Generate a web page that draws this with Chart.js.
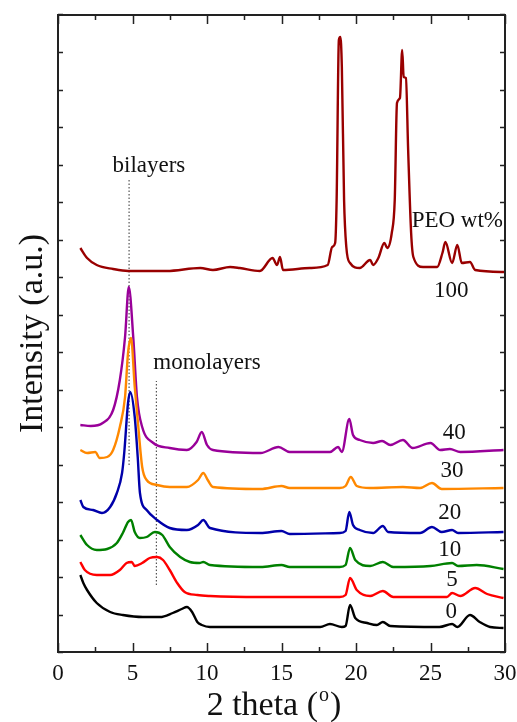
<!DOCTYPE html>
<html lang="en">
<head>
    <meta charset="UTF-8">
    <title>XRD PEO wt%</title>
    <script src="https://cdn.jsdelivr.net/npm/chart.js"></script>
    <style>
    body {
        margin: 0;
        background-color: #fff;
    }
    #wrap {
        width: 517px;
        height: 722px;
    }
</style>
</head>
<body>
    <div id="wrap"><canvas id="xrdChart" width="517" height="722"></canvas></div>

    <script>
        // 2 theta (deg), intensity (a.u., stacked offsets included)
        const peo0 = [[1.5,77],[1.7,69],[1.95,62],[2.6,49],[3.5,40],[4.35,37],[5.7,35],[6.85,35],[7.7,39],[8.3,43],[8.65,45],[9.0,40],[9.35,30],[9.65,27],[10.2,25],[13.6,25],[17.6,25],[18.25,28],[19.05,25],[19.3,26],[19.6,47],[19.95,34],[20.75,29],[21.4,27],[21.8,30],[22.3,26],[25.6,25],[26.45,28],[26.8,25],[27.65,37],[28.3,30],[29.0,25],[29.9,24]];
        const peo5 = [[1.5,90],[1.8,82],[2.6,77],[3.5,77],[4.15,82],[4.6,89],[4.95,90],[5.15,86],[5.65,89],[6.15,94],[6.65,95],[7.05,92],[7.5,82],[8.0,69],[8.5,60],[9.35,57],[10.2,56],[13.6,55],[18.9,55],[19.3,57],[19.6,74],[20.05,62],[20.95,56],[21.8,61],[22.5,55],[26.1,55],[26.45,59],[27.0,56],[28.0,64],[28.8,58],[29.9,54]];
        const peo10 = [[1.5,117],[1.95,107],[2.6,102],[3.3,103],[3.95,109],[4.35,119],[4.7,130],[4.9,132],[5.15,120],[5.5,114],[5.95,115],[6.5,120],[7.0,117],[7.5,105],[8.2,95],[8.85,90],[9.5,89],[9.75,90],[10.2,87],[13.6,85],[15.0,87],[15.55,85],[18.9,85],[19.3,87],[19.6,104],[19.95,92],[20.95,86],[21.8,90],[22.5,85],[25.0,86],[26.45,89],[26.85,86],[28.1,87],[29.9,83]];
        const peo20 = [[1.5,152],[1.7,145],[2.35,142],[2.95,139],[3.5,145],[3.95,159],[4.3,179],[4.45,200],[4.7,249],[4.85,260],[5.15,235],[5.35,195],[5.5,159],[5.95,142],[6.65,132],[7.5,124],[8.65,122],[9.4,127],[9.75,132],[10.2,124],[13.6,119],[15.0,121],[15.55,118],[18.9,119],[19.3,121],[19.55,140],[19.8,127],[20.25,122],[21.15,119],[21.8,126],[22.15,120],[24.3,119],[25.1,125],[25.75,120],[26.45,122],[26.85,119],[29.9,120]];
        const peo30 = [[1.5,202],[1.95,199],[2.5,200],[2.8,194],[3.3,195],[3.7,202],[4.15,225],[4.5,255],[4.7,299],[4.9,314],[5.15,265],[5.35,232],[5.65,185],[5.95,172],[6.65,167],[7.5,165],[8.65,165],[9.4,172],[9.75,179],[10.05,172],[10.4,165],[13.6,163],[15.0,166],[15.55,164],[18.9,164],[19.3,166],[19.65,175],[20.05,166],[20.95,164],[23.15,165],[24.3,164],[25.1,169],[25.75,163],[29.9,164]];
        const peo40 = [[1.5,227],[2.2,226],[3.0,229],[3.7,242],[4.15,272],[4.5,315],[4.75,365],[5.05,315],[5.3,255],[5.65,225],[6.4,209],[7.5,204],[8.65,202],[9.3,210],[9.65,220],[10.0,207],[10.4,202],[13.6,199],[14.8,205],[15.55,200],[18.25,200],[18.8,205],[19.05,200],[19.55,233],[19.8,217],[20.25,212],[21.15,209],[21.75,211],[22.3,207],[23.15,212],[23.8,204],[25.0,209],[25.65,202],[26.3,203],[27.0,200],[29.9,202]];
        const peo100 = [[1.5,404],[1.95,394],[2.6,387],[3.7,383],[4.7,381],[7.3,381],[9.55,384],[10.4,382],[11.55,385],[12.2,384],[13.55,381],[14.4,394],[14.7,387],[14.9,395],[15.1,382],[16.9,384],[18.1,387],[18.4,405],[18.6,409],[18.7,452],[18.85,612],[18.95,615],[19.05,585],[19.2,452],[19.35,405],[19.6,389],[20.25,384],[20.95,392],[21.15,387],[21.5,394],[21.9,409],[22.1,404],[22.4,419],[22.6,452],[22.75,549],[22.95,554],[23.1,602],[23.2,575],[23.35,574],[23.5,502],[23.7,419],[23.85,395],[24.5,385],[25.45,385],[25.8,399],[26.0,410],[26.45,389],[26.8,407],[27.1,389],[27.65,390],[28.0,382],[30,380]];

        const seriesLabels = ['0', '5', '10', '20', '30', '40', '100'];
        const seriesColors = ['#000000', '#ff0000', '#008000', '#0000aa', '#ff8800', '#990099', '#990000'];
        const seriesData = [peo0, peo5, peo10, peo20, peo30, peo40, peo100];

        // dotted marker lines: bilayers, monolayers
        const bilayerLine = [[4.77, 187], [4.77, 472]];
        const monolayerLine = [[6.6, 67], [6.6, 271]];

        const xTicks = [0, 5, 10, 15, 20, 25, 30];

        const FONT = '"Liberation Serif", "Times New Roman", serif';

        const datasets = seriesData.map((d, i) => ({
            label: seriesLabels[i],
            data: d.map(p => ({ x: p[0], y: p[1] })),
            borderColor: seriesColors[i],
            borderWidth: 2.4,
            pointRadius: 0,
            cubicInterpolationMode: 'monotone',
            fill: false
        }));
        [bilayerLine, monolayerLine].forEach(l => {
            datasets.push({
                label: 'marker',
                data: l.map(p => ({ x: p[0], y: p[1] })),
                borderColor: '#333',
                borderWidth: 1,
                borderDash: [1.5, 2],
                pointRadius: 0
            });
        });

        // frame, inward ticks, axis titles and text labels
        const framePlugin = {
            id: 'frame',
            afterDraw(chart) {
                const { ctx, chartArea: a, scales } = chart;
                const xs = scales.x, ys = scales.y;
                ctx.save();
                ctx.strokeStyle = '#222';
                ctx.lineWidth = 2;
                ctx.strokeRect(a.left, a.top, a.right - a.left, a.bottom - a.top);

                ctx.lineWidth = 1.5;
                ctx.beginPath();
                for (let v = 0; v <= 30; v += 2.5) {
                    const px = Math.round(xs.getPixelForValue(v)) + 0.5;
                    const len = (v % 5 === 0) ? 9 : 5;
                    ctx.moveTo(px, a.bottom); ctx.lineTo(px, a.bottom - len);
                    ctx.moveTo(px, a.top); ctx.lineTo(px, a.top + len);
                }
                for (let v = 0; v <= 637.5; v += 37.5) {
                    const py = Math.round(ys.getPixelForValue(v)) + 0.5;
                    ctx.moveTo(a.left, py); ctx.lineTo(a.left + 5, py);
                    ctx.moveTo(a.right, py); ctx.lineTo(a.right - 5, py);
                }
                ctx.stroke();

                ctx.fillStyle = '#111';
                ctx.textAlign = 'center';
                ctx.textBaseline = 'middle';
                ctx.font = '23px ' + FONT;
                const labelPos = [[26.4, 40], [26.45, 72], [26.3, 102], [26.3, 139], [26.45, 181], [26.6, 219], [26.4, 361]];
                seriesLabels.forEach((t, i) => {
                    ctx.fillText(t, xs.getPixelForValue(labelPos[i][0]), ys.getPixelForValue(labelPos[i][1]));
                });
                ctx.fillText('PEO wt%', xs.getPixelForValue(26.8), ys.getPixelForValue(431));
                ctx.fillText('bilayers', xs.getPixelForValue(6.1), ys.getPixelForValue(486));
                ctx.fillText('monolayers', xs.getPixelForValue(10.0), ys.getPixelForValue(289));

                // x title with superscript o
                ctx.textBaseline = 'alphabetic';
                ctx.textAlign = 'left';
                const t1 = '2 theta (', t3 = ')';
                ctx.font = '34px ' + FONT;
                const w1 = ctx.measureText(t1).width;
                const w3 = ctx.measureText(t3).width;
                ctx.font = '20px ' + FONT;
                const w2 = ctx.measureText('o').width + 2;
                const total = w1 + w2 + w3;
                let sx = 274 - total / 2;
                const by = 715;
                ctx.font = '34px ' + FONT;
                ctx.fillText(t1, sx, by);
                ctx.font = '20px ' + FONT;
                ctx.fillText('o', sx + w1 + 1, by - 14);
                ctx.font = '34px ' + FONT;
                ctx.fillText(t3, sx + w1 + w2, by);

                // y title
                ctx.translate(42, (a.top + a.bottom) / 2);
                ctx.rotate(-Math.PI / 2);
                ctx.textAlign = 'center';
                ctx.fillText('Intensity (a.u.)', 0, 0);
                ctx.restore();
            }
        };

        const ctx = document.getElementById('xrdChart').getContext('2d');
        const xrdChart = new Chart(ctx, {
            type: 'line',
            data: { datasets: datasets },
            options: {
                responsive: false,
                animation: false,
                devicePixelRatio: 1,
                layout: { padding: { top: 15, right: 0, left: 0, bottom: 0 } },
                plugins: {
                    legend: { display: false },
                    tooltip: { enabled: false }
                },
                scales: {
                    x: {
                        type: 'linear',
                        min: 0,
                        max: 30,
                        afterBuildTicks: scale => {
                            scale.ticks = xTicks.map(v => ({ value: v }));
                        },
                        ticks: {
                            font: { size: 23, family: FONT },
                            color: '#111',
                            padding: 0,
                            maxRotation: 0
                        },
                        grid: { display: false },
                        border: { display: false },
                        afterFit: scale => {
                            scale.height = 70;
                            scale.paddingRight = 12;
                        }
                    },
                    y: {
                        type: 'linear',
                        min: 0,
                        max: 637,
                        ticks: { display: false },
                        grid: { display: false },
                        border: { display: false },
                        afterFit: scale => { scale.width = 58; }
                    }
                }
            },
            plugins: [framePlugin]
        });
    </script>
</body>
</html>
